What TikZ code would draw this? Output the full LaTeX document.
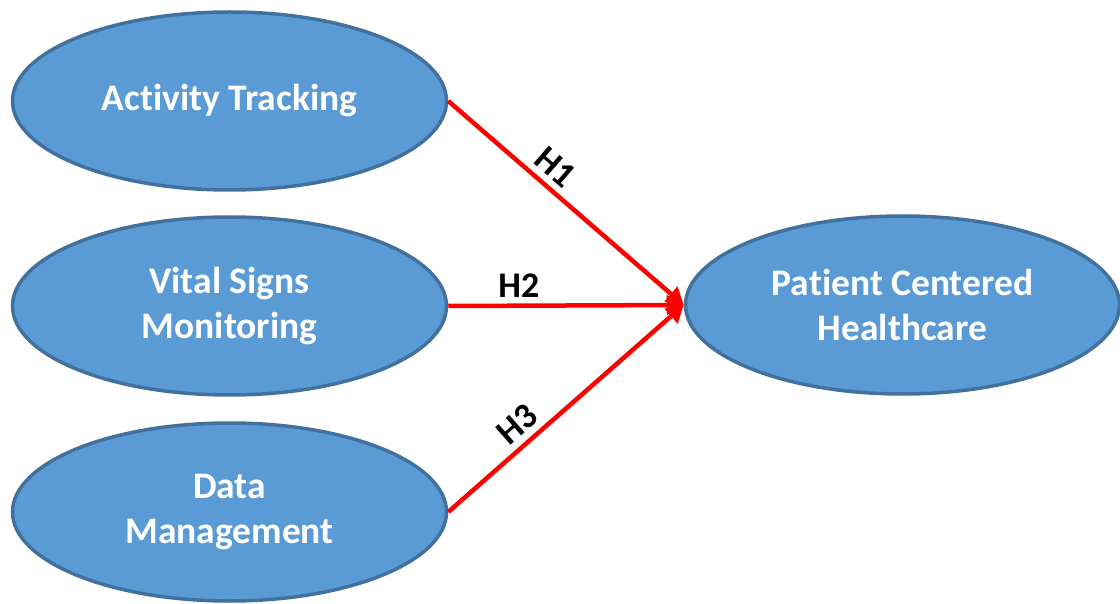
\documentclass[tikz,border=0pt]{standalone}
\usepackage{fontspec}
\setmainfont{Carlito}[Ligatures=NoCommon]
\usetikzlibrary{shapes.geometric,arrows.meta}
\definecolor{ellfill}{HTML}{5B9BD5}
\definecolor{elldraw}{HTML}{41719C}
\tikzset{
  construct/.style={ellipse, draw=elldraw, fill=ellfill, line width=3.5pt,
    minimum width=434pt, minimum height=178pt, inner sep=0pt,
    text=white, align=center, font=\fontsize{37.5}{45}\selectfont\bfseries},
  hyp/.style={draw=red, line width=4.5pt, -{Triangle[length=17pt,width=19pt]}},
  hlabel/.style={sloped, above=6pt, inner sep=0pt, text=black,
    font=\fontsize{36}{40}\selectfont\bfseries}
}
\begin{document}
\begin{tikzpicture}[x=1pt,y=-1pt]
\useasboundingbox (0,0) rectangle (1120,604);
\node[construct] (at) at (229.5,101) {Activity Tracking};
\node[construct] (vs) at (229.5,306) {Vital Signs\\Monitoring};
\node[construct] (dm) at (229.5,512) {Data\\Management};
\node[construct] (pc) at (902.5,305) {Patient Centered\\Healthcare};
\draw[hyp] (at.east) -- node[hlabel, pos=0.4] {H1} (pc.west);
\draw[hyp] (vs.east) -- node[hlabel, pos=0.3] {H2} (pc.west);
\draw[hyp] (dm.east) -- node[hlabel, pos=0.35] {H3} (pc.west);
\end{tikzpicture}
\end{document}
